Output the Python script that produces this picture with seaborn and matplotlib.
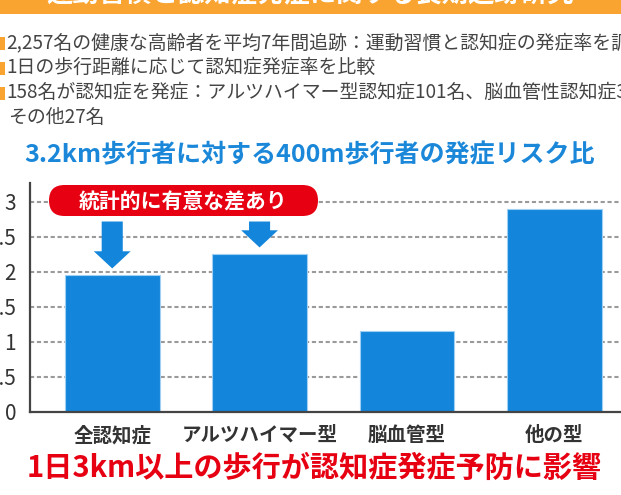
import matplotlib
matplotlib.use("Agg")
import matplotlib.pyplot as plt
from matplotlib.patches import FancyArrow, FancyBboxPatch, Rectangle
from matplotlib.transforms import IdentityTransform
import pandas as pd
import seaborn as sns

# data
categories = ["全認知症", "アルツハイマー型", "脳血管型", "他の型"]
risk_ratio = [1.95, 2.25, 1.15, 2.90]
significant = [0, 1]  # bars marked with arrows
yticks = [0, 0.5, 1, 1.5, 2, 2.5, 3]
ytick_labels = ["0", "0.5", "1", "1.5", "2", "2.5", "3"]

banner = "運動習慣と認知症発症に関する長期追跡研究"
bullets = [
    "2,257名の健康な高齢者を平均7年間追跡：運動習慣と認知症の発症率を調査",
    "1日の歩行距離に応じて認知症発症率を比較",
    "158名が認知症を発症：アルツハイマー型認知症101名、脳血管性認知症30名、",
]
bullet_cont = "その他27名"
title = "3.2km歩行者に対する400m歩行者の発症リスク比"
badge = "統計的に有意な差あり"
conclusion = "1日3km以上の歩行が認知症発症予防に影響"
source = "（研究データを基に作成）"

BLUE = "#1386dc"
RED = "#e60012"
ORANGE = "#f9a430"
GRAY = "#333333"

sns.set_style("white")
plt.rcParams["font.family"] = ["Noto Sans CJK JP", "DejaVu Sans"]

W, H = 621, 495
fig = plt.figure(figsize=(W / 100, H / 100), dpi=100)

df = pd.DataFrame({"cat": categories, "val": risk_ratio})

ax = fig.add_axes([30 / W, (H - 412) / H, (W - 30) / W, (412 - 183) / H])
for y in yticks[1:]:
    ax.axhline(y, color="#9a9a9a", lw=1.5, ls=(0, (2, 1.3)), zorder=0)
sns.barplot(data=df, x="cat", y="val", color=BLUE, width=0.643, saturation=1,
            edgecolor="#9fd0f3", linewidth=0.8, ax=ax, zorder=2)

ax.set_xlim(-0.558, 3.453)
ax.set_ylim(0, 3.27)
ax.set_yticks(yticks)
ax.set_yticklabels(ytick_labels, fontsize=15, color=GRAY)
ax.tick_params(axis="y", length=0, pad=10)
ax.tick_params(axis="x", length=0, pad=10)
for lab in ax.get_xticklabels():
    lab.set_fontsize(14)
    lab.set_fontweight("bold")
    lab.set_color(GRAY)
ax.set_xlabel("")
ax.set_ylabel("")
for s in ["top", "right"]:
    ax.spines[s].set_visible(False)
for s in ["left", "bottom"]:
    ax.spines[s].set_color("#444444")
    ax.spines[s].set_linewidth(1.6)

# arrows above significant bars
for i in significant:
    tail = 2.72
    tip = risk_ratio[i] + 0.1
    ax.add_patch(FancyArrow(i, tail, 0, tip - tail, width=0.143, head_width=0.25,
                            head_length=0.245, length_includes_head=True,
                            color=BLUE, lw=0, zorder=3))

# red badge
px = IdentityTransform()
fig.add_artist(FancyBboxPatch((49, H - 216), 269, 31,
                              boxstyle="round,pad=0,rounding_size=15.5",
                              fc=RED, ec="none", transform=px, zorder=5))
fig.text(183.5 / W, 1 - 201 / H, badge, color="white", fontsize=15,
         fontweight="bold", ha="center", va="center", zorder=6)

# top banner
fig.add_artist(Rectangle((0, H - 14), W, 14, fc=ORANGE, ec="none",
                         transform=px))
fig.text(310 / W, 1 + 5 / H, banner, color="white", fontsize=19,
         fontweight="bold", ha="center", va="center")

# bullets
for k, line in enumerate(bullets):
    yc = 43 + k * 24.8
    fig.add_artist(Rectangle((0, H - yc - 7), 4.5, 13, fc=ORANGE, ec="none",
                             transform=px))
    fig.text(6 / W, 1 - yc / H, line, color="#444444", fontsize=13.6,
             ha="left", va="center")
fig.text(8 / W, 1 - (43 + 3 * 24.8) / H, bullet_cont, color="#444444",
         fontsize=13.6, ha="left", va="center")

fig.text(310 / W, 1 - 155 / H, title, color="#1a87d9", fontsize=18,
         fontweight="bold", ha="center", va="center")

fig.text(314 / W, 1 - 467.5 / H, conclusion, color=RED, fontsize=21,
         fontweight="bold", ha="center", va="center")

fig.text(307 / W, 1 - 503 / H, source, color="#555555", fontsize=10,
         ha="center", va="center")

fig.savefig("out.png", dpi=100)
